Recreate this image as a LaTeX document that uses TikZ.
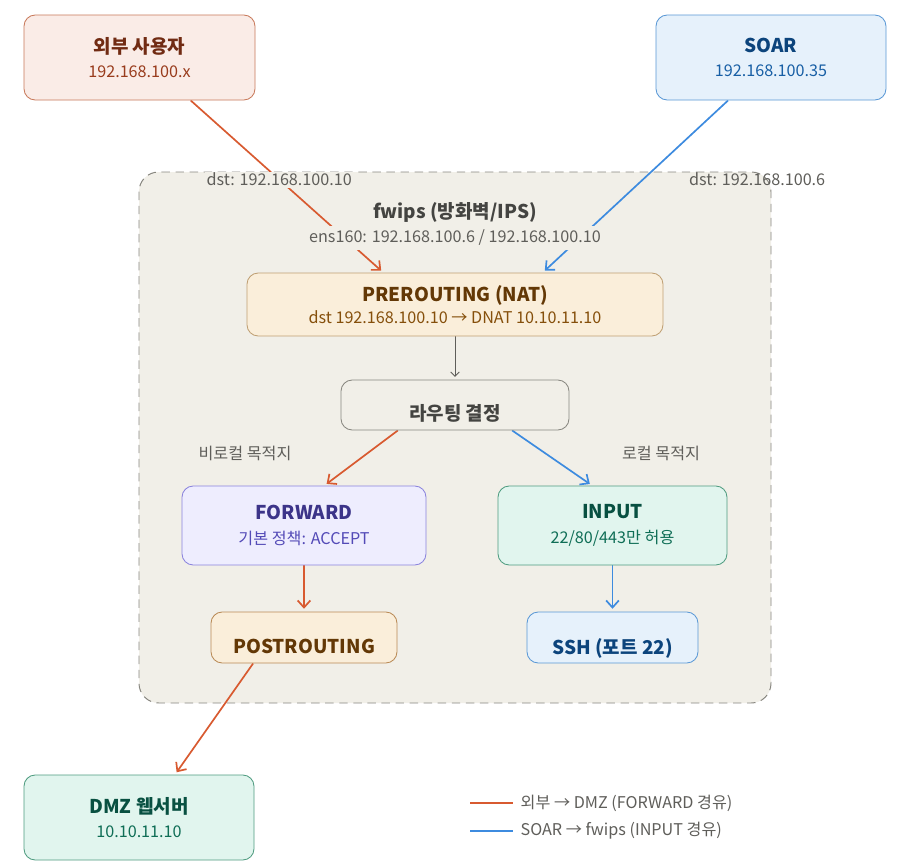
\documentclass[tikz,border=0pt]{standalone}
\usepackage{fontspec}
\setmainfont{Noto Sans CJK KR}
\usetikzlibrary{arrows.meta,positioning}
\pgfdeclarelayer{background}
\pgfdeclarelayer{edges}
\pgfsetlayers{background,edges,main}

\definecolor{extfill}{HTML}{FAECE7}\definecolor{extdraw}{HTML}{C8795A}
\definecolor{exttitle}{HTML}{712B13}\definecolor{extsub}{HTML}{993C1D}
\definecolor{soarfill}{HTML}{E6F1FB}\definecolor{soardraw}{HTML}{5A98D6}
\definecolor{soartitle}{HTML}{0C447C}\definecolor{soarsub}{HTML}{185FA5}
\definecolor{fwbg}{HTML}{F1EFE8}\definecolor{fwline}{HTML}{888780}
\definecolor{fwtext}{HTML}{444441}\definecolor{fwsub}{HTML}{5F5E5A}
\definecolor{natfill}{HTML}{FAEEDA}\definecolor{natdraw}{HTML}{BF9F73}
\definecolor{nattitle}{HTML}{633806}\definecolor{natsub}{HTML}{854F0B}
\definecolor{fwdfill}{HTML}{EEEDFE}\definecolor{fwddraw}{HTML}{8A83DD}
\definecolor{fwdtitle}{HTML}{3C3489}\definecolor{fwdsub}{HTML}{534AB7}
\definecolor{inpfill}{HTML}{E1F5EE}\definecolor{inpdraw}{HTML}{4F9C80}
\definecolor{inptitle}{HTML}{085041}\definecolor{inpsub}{HTML}{0F6E56}
\definecolor{postdraw}{HTML}{B98A55}
\definecolor{orangeflow}{HTML}{D85A30}\definecolor{blueflow}{HTML}{3D8BDF}

\newdimen\px \px=0.025cm
\newcommand{\ttl}{\bfseries\fontsize{13.5}{16}\selectfont}
\newcommand{\subt}{\fontsize{11.5}{14}\selectfont}
\newcommand{\lowered}[2]{\raisebox{-#1\px}[\height][0pt]{#2}}

\tikzset{
  >={Straight Barb[length=5pt,width=9pt]},
  box/.style={draw, rounded corners=8pt, line width=0.6pt, align=center, inner sep=0pt},
  flow/.style={->, line width=1.2pt},
  lbl/.style={font=\subt, text=fwsub, inner sep=1pt},
}

\begin{document}
\begin{tikzpicture}[x=0.025cm, y=-0.025cm]
    \begin{pgfonlayer}{background}
      \fill[white] (0,0) rectangle (909,868);
    \end{pgfonlayer}
    \useasboundingbox (0,0) rectangle (909,868);

    % hosts outside
    \node[box, fill=extfill, draw=extdraw, text=exttitle, minimum width=231\px, minimum height=85\px]
      (ext) at (139.5,57.5) {{\ttl 외부 사용자}\\[5pt]{\subt\color{extsub}192.168.100.x}};
    \node[box, fill=soarfill, draw=soardraw, text=soartitle, minimum width=230\px, minimum height=85\px]
      (soar) at (771,57.5) {{\ttl SOAR}\\[5pt]{\subt\color{soarsub}192.168.100.35}};
    \node[box, fill=inpfill, draw=inpdraw, text=inptitle, minimum width=230\px, minimum height=85\px]
      (dmz) at (139,817.5) {{\ttl DMZ 웹서버}\\[5pt]{\subt\color{inpsub}10.10.11.10}};

    % fwips
    \begin{pgfonlayer}{background}
      \draw[fwline, fill=fwbg, dashed, dash pattern=on 6pt off 4pt, rounded corners=14pt, line width=0.7pt]
        (139,172) rectangle (771,703);
    \end{pgfonlayer}
    \node[font=\ttl, text=fwtext] (fwname) at (455,212) {fwips (방화벽/IPS)};
    \node[lbl, fill=fwbg, inner sep=3pt] (fwens) at (455,238) {ens160: 192.168.100.6 / 192.168.100.10};

    \node[box, fill=natfill, draw=natdraw, text=nattitle, minimum width=416\px, minimum height=63\px]
      (nat) at (455,304.5) {{\ttl PREROUTING (NAT)}\\[4pt]{\subt\color{natsub}dst 192.168.100.10 → DNAT 10.10.11.10}};
    \node[box, fill=fwbg, draw=fwline, text=fwtext, minimum width=228\px, minimum height=50\px]
      (route) at (455,405) {\lowered{7}{\ttl 라우팅 결정}};
    \node[box, fill=fwdfill, draw=fwddraw, text=fwdtitle, minimum width=244\px, minimum height=79\px]
      (fwd) at (304,525.5) {{\ttl FORWARD}\\[6pt]{\subt\color{fwdsub}기본 정책: ACCEPT}};
    \node[box, fill=inpfill, draw=inpdraw, text=inptitle, minimum width=229\px, minimum height=79\px]
      (inp) at (612.5,525.5) {{\ttl INPUT}\\[6pt]{\subt\color{inpsub}22/80/443만 허용}};
    \node[box, fill=natfill, draw=postdraw, text=nattitle, minimum width=186\px, minimum height=51\px]
      (post) at (304,637.5) {\lowered{9}{\ttl POSTROUTING}};
    \node[box, fill=soarfill, draw=soardraw, text=soartitle, minimum width=171\px, minimum height=51\px]
      (ssh) at (612.5,637.5) {\lowered{9}{\ttl SSH (포트 22)}};

    \node[lbl] (nonlocal) at (245,453) {비로컬 목적지};
    \node[lbl] (local) at (661,453) {로컬 목적지};

    \begin{pgfonlayer}{edges}
      \draw[flow, orangeflow, shorten >=2pt] (ext.-40) -- node[lbl, pos=0.46, fill=fwbg] (dstext) {dst: 192.168.100.10} (nat.156);
      \draw[flow, blueflow, shorten >=2pt] (soar.-135) -- node[lbl, pos=0.46, anchor=west, xshift=44\px] (dstsoar) {dst: 192.168.100.6} (nat.20);
      \draw[->, fwsub, line width=0.6pt, >={Straight Barb[length=3pt,width=6pt]}, shorten >=2pt] (nat) -- (route);
      \draw[flow, orangeflow, shorten >=2pt] (route.-156) -- (fwd.63);
      \draw[flow, blueflow, shorten >=2pt] (route.-24) -- (inp.117);
      \draw[flow, orangeflow, shorten >=2pt] (fwd) -- (post);
      \draw[flow, blueflow, shorten >=2pt] (inp) -- (ssh);
      \draw[flow, orangeflow, shorten >=2pt] (post.-153) -- (dmz.50);
    \end{pgfonlayer}

    % legend
    \coordinate (legA) at (470,803);
    \coordinate (legB) at (470,831);
    \draw[orangeflow, line width=1.5pt] (legA) -- ++(43,0) coordinate (legAend);
    \draw[blueflow, line width=1.5pt] (legB) -- ++(43,0) coordinate (legBend);
    \node[lbl, anchor=west, xshift=6\px] (legAtext) at (legAend) {외부 → DMZ (FORWARD 경유)};
    \node[lbl, anchor=west, xshift=6\px] (legBtext) at (legBend) {SOAR → fwips (INPUT 경유)};
\end{tikzpicture}
\end{document}
